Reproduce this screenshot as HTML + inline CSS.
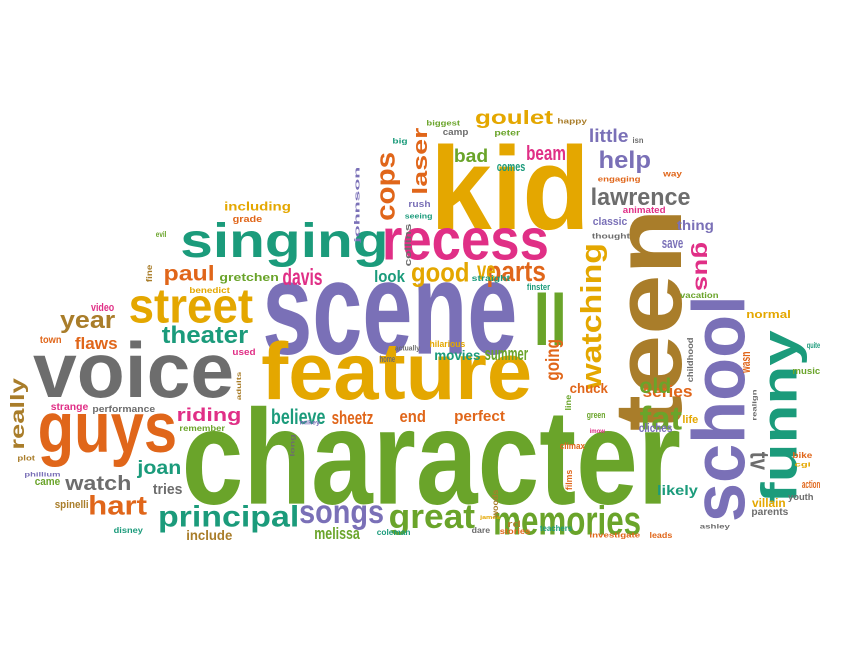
<!DOCTYPE html>
<html><head><meta charset="utf-8">
<style>
html,body{margin:0;padding:0;background:#fff;}
#c{position:absolute;left:0;top:0;width:864px;height:648px;}
text{font-family:"Liberation Sans",sans-serif;font-weight:bold;}
</style></head>
<body>
<svg id="c" width="864" height="648"></svg>
<script>
const G="#6aa42a",P="#7a70b7",Y="#e4a700",Y2="#6d6d6d",O="#e0661a",B="#a97d2a",T="#1b9b7b",M="#e02f86";
// words and their ink boxes [x0,y0,x1,y1], colours, rotations (kept in matching order, 5 per line)
const words=[
"character","scene","feature","voice","kid",
"teen","singing","recess","school","funny",
"guys","street","principal","songs","great",
"memories","good","parts","ll","watching",
"cops","laser","goulet","beam","bad",
"help","little","lawrence","paul","gretchen",
"davis","look","ve","theater","year",
"flaws","including","grade","riding","believe",
"sheetz","end","perfect","going","movies",
"summer","chuck","series","old","fat",
"likely","watch","joan","hart","melissa",
"really","gus","thing","tv","villain",
"tries","include","disney","spinelli","plot",
"strange","performance","remember","video","town",
"benedict","evil","fine","used","adults",
"johnson","collins","biggest","camp","peter",
"happy","big","rush","seeing","comes",
"isn","engaging","classic","thought","animated",
"save","way","straight","finster","vacation",
"normal","childhood","wasn","realign","life",
"cliches","youth","parents","ashley","bike",
"cgi","action","music","quite","mikey",
"hilarious","actually","home","green","imow",
"climax","line","films","rd","phillium",
"came","leads","investigate","teachers","stories",
"dare","james","coleman","woods","long"];
const boxes=[
[185,405,680,505],[265,282,515,355],[262,340,530,400],[33,340,232,398],[437,143,583,230],
[618,215,682,430],[182,222,385,267],[385,228,547,260],[690,300,745,520],[760,330,807,503],
[40,413,175,467],[130,290,253,323],[160,505,297,533],[300,505,383,530],[390,505,475,535],
[495,505,640,535],[412,262,468,287],[488,262,545,287],[537,292,563,345],[580,245,607,390],
[380,153,400,220],[412,128,427,193],[476,110,553,128],[527,145,565,160],[455,148,487,162],
[600,150,650,173],[590,128,628,142],[592,187,690,205],[165,265,213,285],[220,273,278,283],
[283,268,322,285],[375,270,405,282],[477,265,495,280],[162,325,248,343],[60,315,115,333],
[75,337,117,349],[225,202,290,213],[233,215,262,224],[178,408,240,425],[272,408,325,424],
[332,410,373,424],[400,410,425,422],[455,410,505,424],[545,340,563,380],[435,350,480,360],
[485,350,528,360],[570,383,608,393],[643,385,692,397],[640,377,670,393],[640,405,682,430],
[658,485,698,498],[65,475,130,490],[137,460,180,478],[90,495,147,515],[315,527,360,539],
[10,378,28,448],[691,243,707,290],[677,220,713,233],[750,452,768,470],[752,498,785,507],
[153,483,182,494],[187,530,232,540],[114,527,143,535],[55,500,88,510],[18,455,35,462],
[51,403,88,412],[93,405,155,414],[180,425,225,431],[91,303,114,311],[40,336,61,343],
[190,287,230,293],[156,231,166,237],[146,265,152,282],[233,348,255,355],[236,372,241,400],
[354,168,361,243],[404,224,411,266],[427,120,460,127],[443,130,468,137],[495,130,520,137],
[558,118,587,125],[393,138,407,145],[409,200,430,207],[405,213,432,220],[497,164,525,171],
[633,137,643,143],[598,176,640,183],[593,217,627,225],[592,233,630,240],[623,206,665,213],
[662,240,683,248],[663,172,682,178],[472,275,510,283],[527,283,550,290],[680,292,718,298],
[747,310,790,318],[687,338,693,382],[743,352,750,373],[752,390,758,420],[683,415,698,423],
[639,423,672,432],[788,493,813,502],[752,508,788,517],[700,524,730,530],[793,452,812,458],
[795,462,810,468],[802,480,820,488],[793,367,820,374],[807,342,820,350],[300,420,320,426],
[430,340,465,347],[395,345,420,352],[380,355,395,362],[587,413,605,420],[590,428,605,433],
[560,442,585,449],[565,395,571,410],[565,470,572,490],[508,520,520,527],[25,472,60,478],
[35,479,60,485],[650,532,672,538],[590,532,640,539],[540,525,572,531],[500,528,530,534],
[472,527,490,533],[480,515,500,520],[377,529,410,535],[492,490,498,518],[290,435,296,456]];
const colors=[
G,P,Y,Y2,Y,
B,T,M,P,T,
O,Y,T,P,G,
G,Y,O,G,Y,
O,O,Y,M,G,
P,P,Y2,O,G,
M,T,Y,T,B,
O,Y,O,M,T,
O,O,O,O,T,
G,O,O,G,G,
T,Y2,T,O,G,
B,M,P,Y2,Y,
Y2,B,T,B,B,
M,Y2,G,M,O,
Y,G,B,M,B,
P,Y2,G,Y2,G,
B,T,P,T,T,
Y2,O,P,Y2,M,
P,O,T,T,G,
Y,Y2,O,Y2,Y,
P,Y2,Y2,Y2,O,
Y,O,G,T,P,
Y,Y2,Y2,G,M,
O,G,O,B,P,
G,O,O,T,O,
Y2,Y,T,B,Y2];
const rot={"teen":-90,"school":-90,"funny":-90,"watching":-90,"cops":-90,"laser":-90,"going":-90,"really":-90,"gus":90,"tv":90,"johnson":-90,"collins":-90,"fine":-90,"adults":-90,"childhood":-90,"wasn":-90,"realign":-90,"line":-90,"films":-90,"woods":-90,"long":-90};
const svg=document.getElementById('c');
const NS="http://www.w3.org/2000/svg";
const cv=document.createElement('canvas').getContext('2d');
cv.font='bold 100px "Liberation Sans", sans-serif';
words.forEach((w,i)=>{
  const b=boxes[i]; if(!b) return;
  const r=rot[w]||0;
  const m=cv.measureText(w);
  const L=m.actualBoundingBoxLeft, R=m.actualBoundingBoxRight, A=m.actualBoundingBoxAscent, D=m.actualBoundingBoxDescent;
  const iw=R+L, ih=A+D;
  let bw=b[2]-b[0], bh=b[3]-b[1];
  if(r!==0){const t=bw;bw=bh;bh=t;}
  const sx=bw/iw, sy=bh/ih;
  const cx=(b[0]+b[2])/2, cy=(b[1]+b[3])/2;
  const mx=(R-L)/2, my=(D-A)/2;
  const t=document.createElementNS(NS,'text');
  
  
  t.setAttribute('font-size','100');
  t.setAttribute('fill',colors[i]||Y2);
  t.setAttribute('transform',`translate(${cx},${cy}) rotate(${r}) scale(${sx},${sy}) translate(${-mx},${-my})`);
  t.textContent=w;
  svg.appendChild(t);
});
</script>
</body></html>
